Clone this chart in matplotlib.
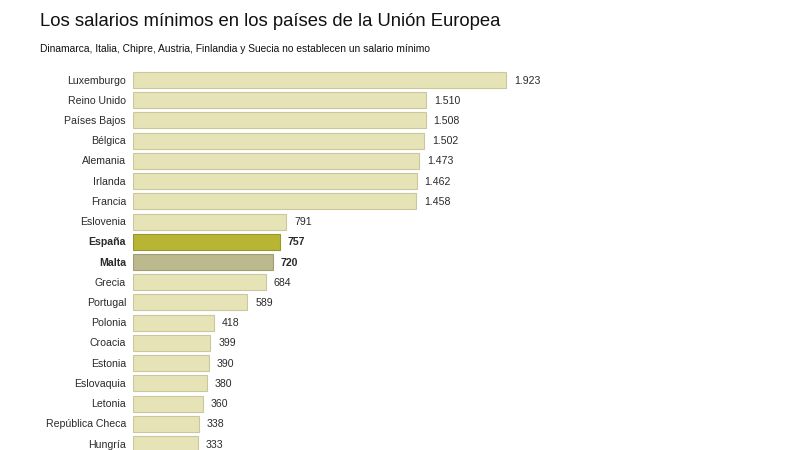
import matplotlib
matplotlib.use("Agg")
import matplotlib.pyplot as plt
from matplotlib import font_manager

countries = ["Luxemburgo", "Reino Unido", "Países Bajos", "Bélgica", "Alemania", "Irlanda",
             "Francia", "Eslovenia", "España", "Malta", "Grecia", "Portugal", "Polonia",
             "Croacia", "Estonia", "Eslovaquia", "Letonia", "República Checa", "Hungría"]
values = [1923, 1510, 1508, 1502, 1473, 1462, 1458, 791, 757, 720, 684, 589, 418, 399, 390, 380, 360, 338, 333]
highlight = {"España": ("#b8b535", "#9a9728"), "Malta": ("#bcb98f", "#a09d74")}

plt.rcParams['font.family'] = ['Liberation Sans', 'DejaVu Sans']
names = {f.name for f in font_manager.fontManager.ttflist}
narrow = 'Liberation Sans Narrow' in names
lab_family = ['Liberation Sans Narrow', 'Liberation Sans'] if narrow else ['Liberation Sans']
lab_size = 8.6 if narrow else 7.6

W, H = 800, 450
fig = plt.figure(figsize=(8, 4.5), dpi=100)
fig.patch.set_facecolor("white")

x0_px, top_px, bot_px = 133, 60, 450
scale = 373 / 1923  # px per unit
row0, step = 80, 20.22
ax = fig.add_axes([x0_px / W, 0, (W - x0_px) / W, (H - top_px) / H])
ax.set_xlim(0, (W - x0_px) / scale)
ax.set_ylim((bot_px - row0) / step, (top_px - row0) / step)
ax.axis("off")

for i, (c, v) in enumerate(zip(countries, values)):
    fc, ec = highlight.get(c, ("#e6e4b6", "#c9c79c"))
    ax.barh(i, v, height=0.79, color=fc, edgecolor=ec, linewidth=0.8)
    bold = c in highlight
    lab = f"{v:,}".replace(",", ".")
    ax.text(v + 8 / scale, i + 0.03, lab, va="center", ha="left", fontsize=lab_size,
            family=lab_family, color="#2a2a2a", fontweight="bold" if bold else "normal")
    ax.text(-7 / scale, i + 0.03, c, va="center", ha="right", fontsize=lab_size,
            family=lab_family, color="#2a2a2a", fontweight="bold" if bold else "normal")

fig.text(40 / W, 1 - 22 / H, "Los salarios mínimos en los países de la Unión Europea",
         fontsize=13.3, color="#111111", va="center", ha="left")
fig.text(40 / W, 1 - 49 / H, "Dinamarca, Italia, Chipre, Austria, Finlandia y Suecia no establecen un salario mínimo",
         fontsize=8.3 if narrow else 7.4, family=lab_family, color="#111111", va="center", ha="left")

fig.savefig("out.png", dpi=100)
